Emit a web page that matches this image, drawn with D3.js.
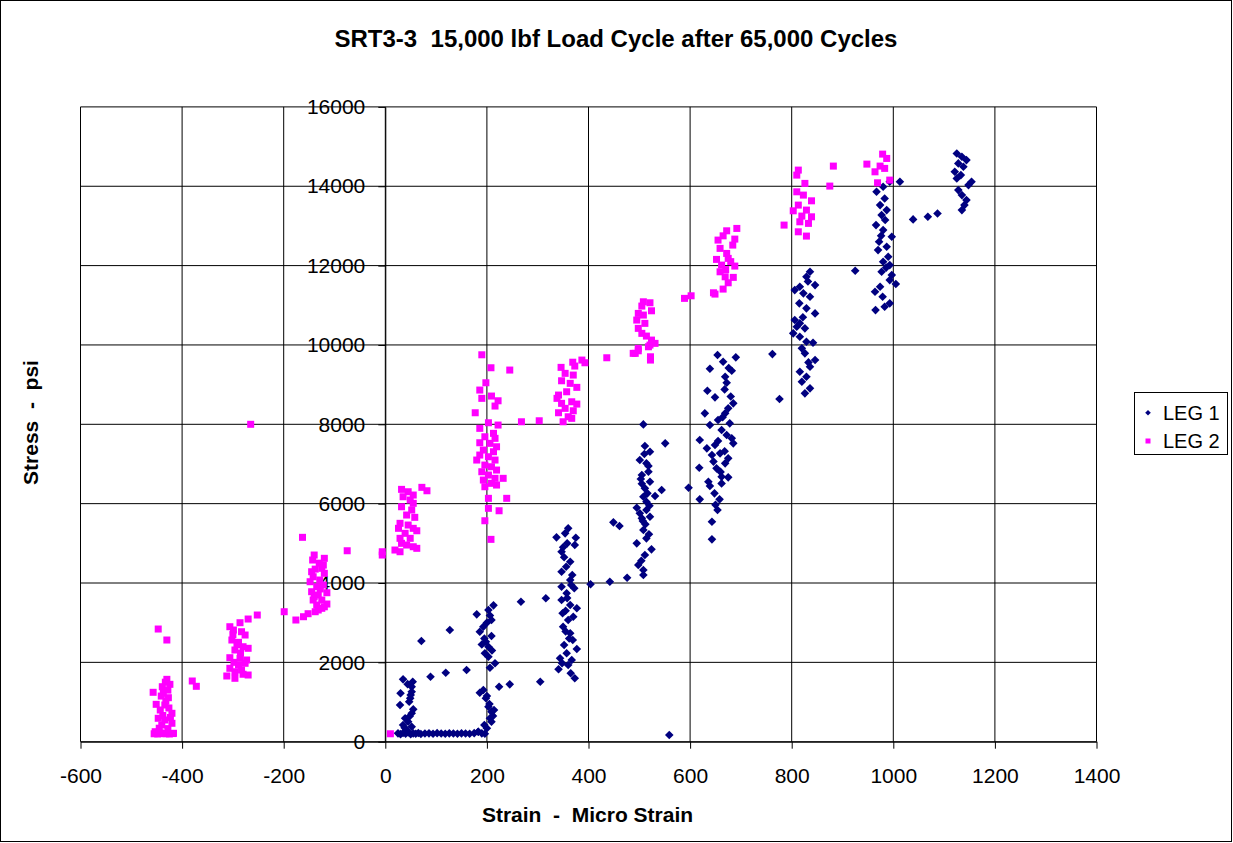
<!DOCTYPE html>
<html lang="en">
  <head>
    <meta charset="UTF-8" />
    <title>SRT3-3 Load Cycle</title>
    <script src="https://d3js.org/d3.v7.min.js"></script>
    <style>
      body {
        margin: 0;
        background: #fff;
      }
      text {
        font-family: "Liberation Sans", Arial, sans-serif;
        fill: #000;
      }
      .grid {
        stroke: #000;
        stroke-width: 1;
      }
      .axis path,
      .axis line {
        stroke: #000;
      }
    </style>
  </head>
  <body>
    <svg id="canvas" width="1233" height="843"></svg>

    <script>
      // strain (micro strain), stress (psi)
      const leg1 = [
        // bottom row
        [25, 210], [30, 190], [35, 220], [40, 200], [45, 230], [50, 190], [55, 210], [60, 200],
        [65, 220], [70, 195], [78, 205], [86, 210], [94, 200], [102, 215], [110, 205], [118, 200],
        [126, 210], [134, 205], [142, 200], [150, 210], [158, 205], [166, 200], [175, 215],
        [183, 250], [190, 210], [196, 200],
        // ~40 column
        [35, 1572], [54, 1512], [52, 1386], [30, 1220], [52, 1260], [49, 1094], [29, 925],
        [47, 1008], [55, 816], [52, 716], [39, 590], [45, 504], [35, 421], [52, 378], [42, 295],
        [48, 640], [38, 350], [44, 1450], [50, 1180],
        [89, 1638], [119, 1739], [160, 1807], [71, 2538], [127, 2815],
        // ~200 column
        [213, 3437], [203, 3319], [180, 3210], [209, 3067], [193, 2898], [186, 2772], [209, 2664],
        [198, 2520], [203, 2394], [196, 2228], [203, 2142], [216, 1976], [206, 1865], [193, 1303],
        [186, 1235], [198, 1094], [203, 882], [209, 756], [206, 590], [209, 504], [200, 338],
        [183, 252], [200, 3000], [195, 2600], [210, 2300], [200, 1150], [205, 950], [212, 650],
        [195, 420], [206, 3180], [190, 2450], [214, 800],
        [224, 1386], [245, 1446], [305, 1512], [267, 3528], [316, 3614], [404, 3967], [442, 4032],
        [476, 4133], [559, 169],
        // ~360 column
        [360, 5378], [354, 5252], [337, 5151], [375, 5141], [358, 5000], [373, 4957], [347, 4788],
        [364, 4536], [356, 4410], [347, 4284], [364, 4075], [347, 3906], [372, 3866], [357, 3740],
        [347, 3571], [364, 3445], [377, 3362], [349, 3236], [360, 3067], [350, 2898], [364, 2732],
        [369, 2563], [352, 2437], [377, 2336], [357, 2228], [344, 2102], [367, 2059], [360, 1933],
        [341, 1825], [365, 1724], [373, 1598], [352, 4650], [368, 4200], [355, 3300], [362, 2600],
        [350, 4900], [366, 3950], [358, 3620], [370, 3150], [355, 2780], [348, 1980],
        // ~510 column
        [508, 7998], [551, 7520], [511, 7452], [521, 7308], [501, 7099], [514, 7016], [518, 6804],
        [505, 6721], [521, 6552], [544, 6343], [511, 6386], [531, 6192], [508, 6174], [495, 5897],
        [514, 5839], [505, 5630], [521, 5670], [449, 5529], [461, 5436], [508, 5335], [514, 5126],
        [495, 5000], [524, 4848], [511, 4705], [514, 6048], [501, 5756], [498, 4453], [508, 4327],
        [508, 4201], [510, 7250], [518, 6950], [505, 6500], [520, 5950], [512, 5480],
        [503, 6620], [516, 6260], [507, 5560], [519, 5230], [504, 4560],
        // ~660 column
        [654, 9745], [690, 9687], [665, 9576], [639, 9400], [682, 9349], [669, 9198], [672, 9047],
        [634, 8845], [649, 8679], [685, 8528], [675, 8402], [669, 8276], [629, 8276], [655, 8107],
        [639, 7981], [678, 8024], [662, 7855], [619, 7603], [682, 7646], [649, 7477], [633, 7394],
        [685, 7520], [659, 7268], [675, 7142], [643, 7225], [669, 7016], [652, 6890], [618, 6905],
        [662, 6678], [675, 6663], [636, 6552], [639, 6444], [597, 6401], [619, 6108], [658, 6108],
        [654, 5839], [643, 5544], [643, 5100], [662, 6511], [762, 9770], [776, 8636],
        [676, 9420], [668, 8880], [680, 8700], [664, 8180], [672, 7730], [655, 7580], [668, 7320],
        [646, 7060], [660, 6800], [648, 6260], [650, 5970],
        // ~825 column
        [836, 11844], [829, 11718], [846, 11509], [806, 11383], [816, 11466], [823, 11300],
        [836, 11214], [815, 11048], [829, 10922], [846, 10795], [806, 10627], [816, 10544],
        [826, 10418], [803, 10292], [816, 10206], [829, 10080], [842, 10055], [820, 9914],
        [826, 9788], [846, 9619], [836, 9450], [816, 9324], [829, 9198], [820, 9072], [836, 8906],
        [826, 8780], [832, 11600], [822, 10700], [810, 10460], [833, 9560],
        // ~980 column
        [993, 14112], [1013, 14112], [980, 13986], [967, 13860], [983, 13693], [974, 13525],
        [987, 13399], [977, 13273], [966, 13021], [980, 12895], [997, 12726], [972, 12600],
        [987, 12474], [970, 12391], [990, 12222], [980, 12096], [993, 12013], [977, 11844],
        [997, 11761], [993, 11635], [1005, 11535], [974, 11466], [964, 11340], [979, 11214],
        [993, 11048], [983, 10962], [965, 10879], [925, 11870], [984, 13150], [976, 12750],
        [986, 11950],
        [1039, 13164], [1068, 13230], [1087, 13315],
        // ~1135 column
        [1125, 14827], [1135, 14742], [1144, 14659], [1128, 14576], [1138, 14490], [1121, 14364],
        [1133, 14281], [1125, 14198], [1154, 14112], [1148, 14029], [1128, 13903], [1135, 13777],
        [1144, 13651], [1140, 13525], [1135, 13399],
      ];

      const leg2 = [
        // ~-435 column
        [-447, 2840], [-430, 2563], [-380, 1530], [-372, 1396],
        [-430, 1572], [-424, 1446], [-439, 1386], [-457, 1245], [-437, 1220], [-427, 1109],
        [-451, 942], [-434, 925], [-443, 799], [-420, 716], [-447, 590], [-434, 547], [-440, 421],
        [-420, 464], [-453, 252], [-437, 212], [-417, 212], [-443, 220], [-455, 200], [-448, 195],
        [-440, 205], [-432, 200], [-425, 195], [-418, 205], [-428, 330], [-445, 340], [-423, 610],
        [-438, 660], [-426, 850], [-432, 1020], [-441, 1150], [-428, 1300], [-433, 1500],
        // ~-290 column
        [-270, 3092], [-252, 3193], [-286, 2999], [-306, 2898], [-299, 2815], [-283, 2772],
        [-276, 2689], [-302, 2563], [-289, 2505], [-280, 2394], [-296, 2311], [-270, 2354],
        [-306, 2117], [-286, 2102], [-273, 2059], [-289, 1933], [-276, 1976], [-306, 1850],
        [-296, 1764], [-283, 1807], [-270, 1681], [-312, 1656], [-296, 1598], [-300, 2700],
        [-292, 2450], [-285, 2230], [-298, 2000], [-280, 1700],
        [-199, 3276], [-176, 3067], [-161, 3150], [-152, 3226], [-163, 5151], [-75, 4813],
        [-6, 4788], [-6, 4705], [10, 200], [-265, 8000],
        // ~-135 column
        [-140, 4705], [-120, 4622], [-143, 4579], [-122, 4453], [-145, 4284], [-125, 4370],
        [-120, 4244], [-142, 4158], [-129, 4075], [-148, 4032], [-122, 3949], [-135, 3906],
        [-145, 3780], [-115, 3755], [-132, 3697], [-142, 3571], [-125, 3571], [-115, 3470],
        [-135, 3445], [-132, 3319], [-125, 3362], [-138, 3276], [-130, 4500], [-138, 4350],
        [-128, 3850], [-140, 3650], [-120, 3400],
        // ~45 column
        [32, 6360], [45, 6300], [55, 6217], [35, 6174], [49, 6091], [55, 6008], [32, 5922],
        [52, 5839], [42, 5713], [58, 5655], [29, 5504], [45, 5461], [26, 5378], [55, 5378],
        [62, 5317], [39, 5252], [29, 5126], [49, 5126], [32, 5000], [42, 4957], [55, 4914],
        [62, 4874], [29, 4788], [19, 4831], [72, 6411], [82, 6325],
        // ~205 column
        [190, 9752], [208, 9425], [245, 9367], [198, 9047], [186, 8863], [190, 8654], [209, 8712],
        [222, 8593], [216, 8460], [177, 8291], [268, 8064], [303, 8089],
        [203, 8039], [222, 7981], [186, 7898], [213, 7772], [196, 7686], [216, 7646], [186, 7535],
        [206, 7520], [219, 7434], [193, 7351], [213, 7308], [186, 7225], [203, 7182], [216, 7099],
        [180, 7099], [196, 6973], [209, 6930], [219, 6847], [190, 6804], [203, 6721], [216, 6638],
        [232, 6638], [193, 6595], [209, 6512], [196, 6426], [219, 6469],
        [203, 6134], [239, 6134], [203, 5882], [224, 5821], [196, 5569], [208, 5100],
        // ~360 column
        [369, 9565], [387, 9619], [393, 9551], [346, 9435], [373, 9468], [354, 9284], [370, 9241],
        [347, 9097], [364, 9032], [377, 8931], [357, 8820], [341, 8737], [338, 8654], [347, 8528],
        [367, 8568], [377, 8510], [354, 8402], [370, 8341], [341, 8291], [360, 8190], [350, 8064],
        [367, 8150],
        [436, 9677], [488, 9788], [498, 9853],
        // ~510 column
        [508, 11088], [521, 11063], [505, 10980], [524, 10861], [498, 10795], [508, 10753],
        [495, 10627], [511, 10544], [498, 10418], [505, 10292], [514, 10224], [524, 10123],
        [531, 10040], [518, 9954], [521, 9997], [498, 9914], [522, 9702], [522, 9619], [492, 9788],
        [589, 11174], [602, 11239],
        // ~670 column
        [692, 12937], [672, 12877], [688, 12668], [655, 12643], [684, 12517], [659, 12434],
        [672, 12307], [652, 12156], [675, 12182], [662, 12013], [688, 11988], [659, 11844],
        [685, 11703], [669, 11718], [675, 11567], [665, 11408], [646, 11315], [649, 11282],
        [665, 12750], [680, 12100], [670, 11900],
        // ~820 column
        [813, 14407], [810, 14281], [826, 14072], [810, 13860], [823, 13777], [839, 13633],
        [813, 13525], [803, 13381], [829, 13399], [820, 13248], [839, 13230], [816, 13104],
        [833, 13064], [813, 12852], [829, 12744], [785, 13021], [875, 14004], [882, 14508],
        // ~975 column
        [979, 14810], [987, 14701], [974, 14508], [964, 14364], [983, 14450], [993, 14155],
        [969, 14087], [948, 14558],
      ];

      const xTicks = [-600, -400, -200, 0, 200, 400, 600, 800, 1000, 1200, 1400];
      const yTicks = [0, 2000, 4000, 6000, 8000, 10000, 12000, 14000, 16000];
      const seriesNames = ["LEG 1", "LEG 2"];

      const svg = d3.select("#canvas");

      // outer chart border
      svg
        .append("rect")
        .attr("x", 0.5)
        .attr("y", 0.5)
        .attr("width", 1231)
        .attr("height", 841)
        .attr("fill", "#fff")
        .attr("stroke", "#000");

      const x = d3.scaleLinear().domain([-600, 1400]).range([80.5, 1096.5]);
      const y = d3.scaleLinear().domain([0, 16000]).range([741.7, 106.9]);
      const plain = (d) => String(d).replace("\u2212", "-");

      // gridlines
      svg
        .append("g")
        .selectAll("line")
        .data(xTicks)
        .enter()
        .append("line")
        .attr("class", "grid")
        .attr("x1", (d) => x(d))
        .attr("x2", (d) => x(d))
        .attr("y1", y(0))
        .attr("y2", y(16000));

      svg
        .append("g")
        .selectAll("line")
        .data(yTicks)
        .enter()
        .append("line")
        .attr("class", "grid")
        .attr("x1", x(-600))
        .attr("x2", x(1400))
        .attr("y1", (d) => y(d))
        .attr("y2", (d) => y(d));

      // x axis sits on stress = 0
      const xAxis = svg
        .append("g")
        .attr("class", "axis")
        .attr("transform", `translate(0,${y(0)})`)
        .call(
          d3.axisBottom(x).tickValues(xTicks).tickFormat(plain).tickSize(7).tickSizeOuter(0)
        );
      xAxis
        .selectAll("text")
        .attr("y", 41.6)
        .attr("dy", 0)
        .style("font-size", "21px");

      // y axis sits on strain = 0
      const yAxis = svg
        .append("g")
        .attr("class", "axis")
        .attr("transform", `translate(${x(0)},0)`)
        .call(
          d3
            .axisLeft(y)
            .tickValues(yTicks)
            .tickFormat(plain)
            .tickSize(7)
            .tickPadding(13)
            .tickSizeOuter(0)
        );
      yAxis.selectAll("text").style("font-size", "21px");
      svg.selectAll(".axis").attr("font-family", null);

      // series
      const diamond = (r) => `M0,${-r}L${r},0L0,${r}L${-r},0Z`;

      svg
        .append("g")
        .selectAll("path")
        .data(leg1)
        .enter()
        .append("path")
        .attr("d", diamond(4.3))
        .attr("transform", (d) => `translate(${x(d[0])},${y(d[1])})`)
        .attr("fill", "#000080");

      svg
        .append("g")
        .selectAll("rect")
        .data(leg2)
        .enter()
        .append("rect")
        .attr("x", (d) => x(d[0]) - 3.5)
        .attr("y", (d) => y(d[1]) - 3.5)
        .attr("width", 7)
        .attr("height", 7)
        .attr("fill", "#ff00ff");

      // titles
      svg
        .append("text")
        .attr("x", 616)
        .attr("y", 46.7)
        .attr("text-anchor", "middle")
        .attr("font-weight", "bold")
        .attr("font-size", 24)
        .style("white-space", "pre")
        .text("SRT3-3  15,000 lbf Load Cycle after 65,000 Cycles");

      svg
        .append("text")
        .attr("x", 587.5)
        .attr("y", 821.7)
        .attr("text-anchor", "middle")
        .attr("font-weight", "bold")
        .attr("font-size", 21)
        .style("white-space", "pre")
        .text("Strain  -  Micro Strain");

      svg
        .append("text")
        .attr("transform", "translate(38.3,422.5) rotate(-90)")
        .attr("text-anchor", "middle")
        .attr("font-weight", "bold")
        .attr("font-size", 21)
        .style("white-space", "pre")
        .text("Stress  -  psi");

      // legend
      const legend = svg.append("g");
      legend
        .append("rect")
        .attr("x", 1134.5)
        .attr("y", 392.5)
        .attr("width", 93)
        .attr("height", 62)
        .attr("fill", "#fff")
        .attr("stroke", "#000");

      const legY = [412.7, 441];
      legend
        .append("path")
        .attr("d", diamond(2.8))
        .attr("transform", `translate(1148,${legY[0]})`)
        .attr("fill", "#000080");
      legend
        .append("rect")
        .attr("x", 1145.5)
        .attr("y", legY[1] - 2.5)
        .attr("width", 5)
        .attr("height", 5)
        .attr("fill", "#ff00ff");

      legend
        .selectAll("text")
        .data(seriesNames)
        .enter()
        .append("text")
        .attr("x", 1163)
        .attr("y", (d, i) => legY[i] + 7)
        .attr("font-size", 20)
        .text((d) => d);
    </script>
  </body>
</html>
